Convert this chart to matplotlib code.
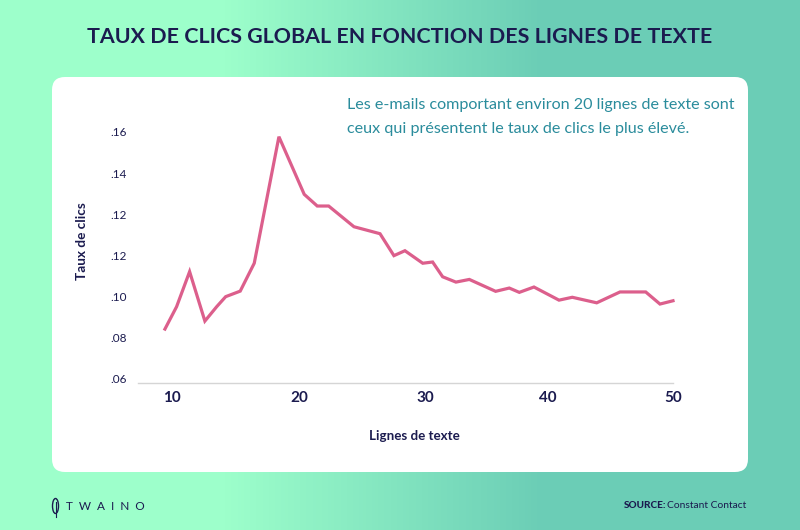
import numpy as np
import matplotlib
matplotlib.use('Agg')
import matplotlib.pyplot as plt
from matplotlib.colors import LinearSegmentedColormap
from matplotlib.patches import FancyBboxPatch, Ellipse

# values (y is in axis units, the source repeats .12 on its scale)
lines = [9.44, 10.37, 11.41, 12.63, 13.57, 14.29, 15.45, 16.57, 18.54, 20.56, 21.6,
         22.51, 24.53, 26.61, 27.72, 28.6, 30.02, 30.81, 31.61, 32.67, 33.74, 35.84,
         36.93, 37.73, 38.9, 40.9, 41.96, 43.91, 45.77, 47.82, 48.96, 50]
ctr = [.0839, .0948, .1119, .0878, .0948, .0997, .1024, .1160, .1777, .1496, .1439,
       .1439, .1338, .1304, .1197, .1221, .1160, .1166, .1094, .1068, .1081, .1023,
       .1039, .1018, .1044, .0980, .0994, .0967, .1020, .1020, .0961, .0977]
x_ticks = [10, 20.2, 30.2, 40, 50]
x_labels = ['10', '20', '30', '40', '50']
y_ticks = [.06, .08, .10, .12, .14, .16, .18]
y_labels = ['.06', '.08', '.10', '.12', '.12', '.14', '.16']

navy = '#1b1b4f'
font = 'Lato'

fig = plt.figure(figsize=(8, 5.3), dpi=100)

# background in pixel coordinates
bg = fig.add_axes([0, 0, 1, 1])
cmap = LinearSegmentedColormap.from_list('bg', [(0, '#9dffcb'), (.28, '#9dffcb'), (.68, '#6bcdb6'), (1, '#6bcdb6')])
bg.imshow(np.linspace(0, 1, 800).reshape(1, -1), cmap=cmap, aspect='auto', extent=[0, 800, 530, 0])
bg.add_patch(FancyBboxPatch((52, 77), 696, 395, boxstyle='round,pad=0,rounding_size=13',
                            fc='white', ec='none'))
bg.add_patch(Ellipse((55.5, 506), 6, 15, fc='none', ec=navy, lw=1))
bg.plot([55.5, 55.5], [502, 517], color=navy, lw=.8)
bg.set_xlim(0, 800)
bg.set_ylim(530, 0)
bg.axis('off')

bg.text(400, 37, 'TAUX DE CLICS GLOBAL EN FONCTION DES LIGNES DE TEXTE', color=navy,
        fontsize=15.4, fontweight='bold', family=font, ha='center', va='center')
bg.text(347, 105, 'Les e-mails comportant environ 20 lignes de texte sont', color='#2a8c9c',
        fontsize=11.6, family=font, va='center')
bg.text(347, 129, 'ceux qui présentent le taux de clics le plus élevé.', color='#2a8c9c',
        fontsize=11.6, family=font, va='center')
bg.text(82, 241, 'Taux de clics', color=navy, fontsize=9.8, fontweight='bold', family=font,
        rotation=90, ha='center', va='center')
bg.text(414, 436, 'Lignes de texte', color=navy, fontsize=9.6, fontweight='bold', family=font,
        ha='center', va='center')
bg.text(66, 506, 'T  W  A  I  N  O', color=navy, fontsize=8.5, family=font, va='center')
bg.text(624, 506, 'SOURCE:', color=navy, fontsize=7.2, fontweight='black', family=font, va='center')
bg.text(667, 506, 'Constant Contact', color=navy, fontsize=7.4, family=font, va='center')

# chart
ax = fig.add_axes([138 / 800, 1 - 383 / 530, (673 - 138) / 800, (383 - 100) / 530])
ax.patch.set_alpha(0)
ax.plot(lines, ctr, color='#dc5f8c', lw=2.3, solid_joinstyle='miter', clip_on=False)
ax.set_xlim(7.29, 50)
ax.set_ylim(.0576, .1956)
ax.set_xticks(x_ticks)
ax.set_xticklabels(x_labels, fontsize=11, fontweight='bold', family=font, color=navy)
ax.set_yticks(y_ticks)
ax.set_yticklabels(y_labels, fontsize=8.5, family=font, color=navy)
ax.tick_params(axis='both', length=0)
ax.tick_params(axis='x', pad=6)
ax.tick_params(axis='y', pad=8)
for side in ['top', 'right', 'left']:
    ax.spines[side].set_visible(False)
ax.spines['bottom'].set_color('#d5d5d5')
ax.spines['bottom'].set_linewidth(1)

fig.savefig('out.png', dpi=100)
